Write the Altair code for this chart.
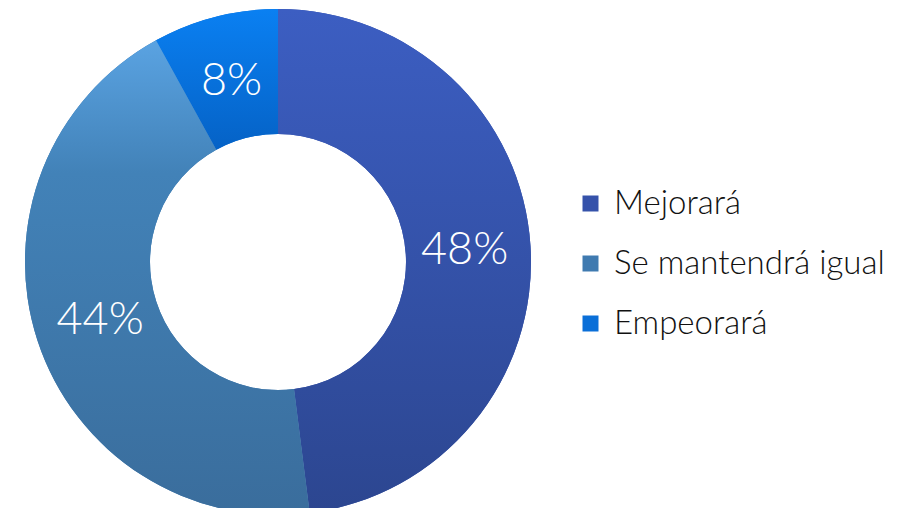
import altair as alt
import pandas as pd

categories = ["Mejorará", "Se mantendrá igual", "Empeorará"]
values = [48, 44, 8]
labels = ["48%", "44%", "8%"]
colors = ["#3552aa", "#3f7ab0", "#0a6fd8"]
gradients = [
    [("#3c5ec2", 0.0), ("#2c4690", 1.0)],
    [("#5aa3e2", 0.0), ("#4282b8", 0.28), ("#3a6d9c", 1.0)],
    [("#0a80f2", 0.0), ("#0562c6", 1.0)],
]

starts, ends = [], []
acc = 0
for v in values:
    starts.append(acc)
    acc += v
    ends.append(acc)

df = pd.DataFrame({
    "cat": categories,
    "value": values,
    "label": labels,
    "start": starts,
    "end": ends,
    "mid": [(s + e) / 2 for s, e in zip(starts, ends)],
})

CX, CY = 270, 254
R_OUT, R_IN = 253, 128
FONT = "Lato"
LEG_FS = 33

theta_scale = alt.Scale(domain=[0, 100], range=[0, 6.283185307])

base = alt.Chart(df).encode(x=alt.value(CX), y=alt.value(CY))

arcs = base.mark_arc(radius=R_OUT, radius2=R_IN).encode(
    theta=alt.Theta("start:Q", scale=theta_scale),
    theta2="end:Q",
    color=alt.Color(
        "cat:N",
        scale=alt.Scale(domain=categories, range=colors),
        legend=alt.Legend(
            title=None,
            orient="none",
            legendX=566,
            legendY=179,
            symbolType="square",
            symbolSize=256,
            symbolStrokeWidth=0,
            labelFont=FONT,
            labelFontSize=LEG_FS,
            labelFontWeight=300,
            labelColor="#111111",
            labelOffset=7,
            rowPadding=59 - LEG_FS,
            padding=0,
            labelLimit=400,
        ),
    ),
)

layers = [arcs]
for cat, stops in zip(categories, gradients):
    g = alt.Gradient(
        gradient="linear",
        stops=[alt.GradientStop(color=c, offset=o) for c, o in stops],
        x1=0, x2=0, y1=0, y2=1,
    )
    layers.append(
        base.transform_filter(alt.datum.cat == cat)
        .mark_arc(radius=R_OUT, radius2=R_IN, fill=g)
        .encode(theta=alt.Theta("start:Q", scale=theta_scale), theta2="end:Q")
    )

text = base.mark_text(
    radius=187, font=FONT, fontSize=45, fontWeight=300, color="white",
    align="center", baseline="middle",
).encode(theta=alt.Theta("mid:Q", scale=theta_scale), text="label:N")
layers.append(text)

chart = alt.layer(*layers).properties(
    width=896, height=500, padding=0, autosize=alt.AutoSizeParams(type="none")
).configure(background="white").configure_view(stroke=None)

chart.save("out.html", embed_options={"renderer": "svg", "actions": False})
